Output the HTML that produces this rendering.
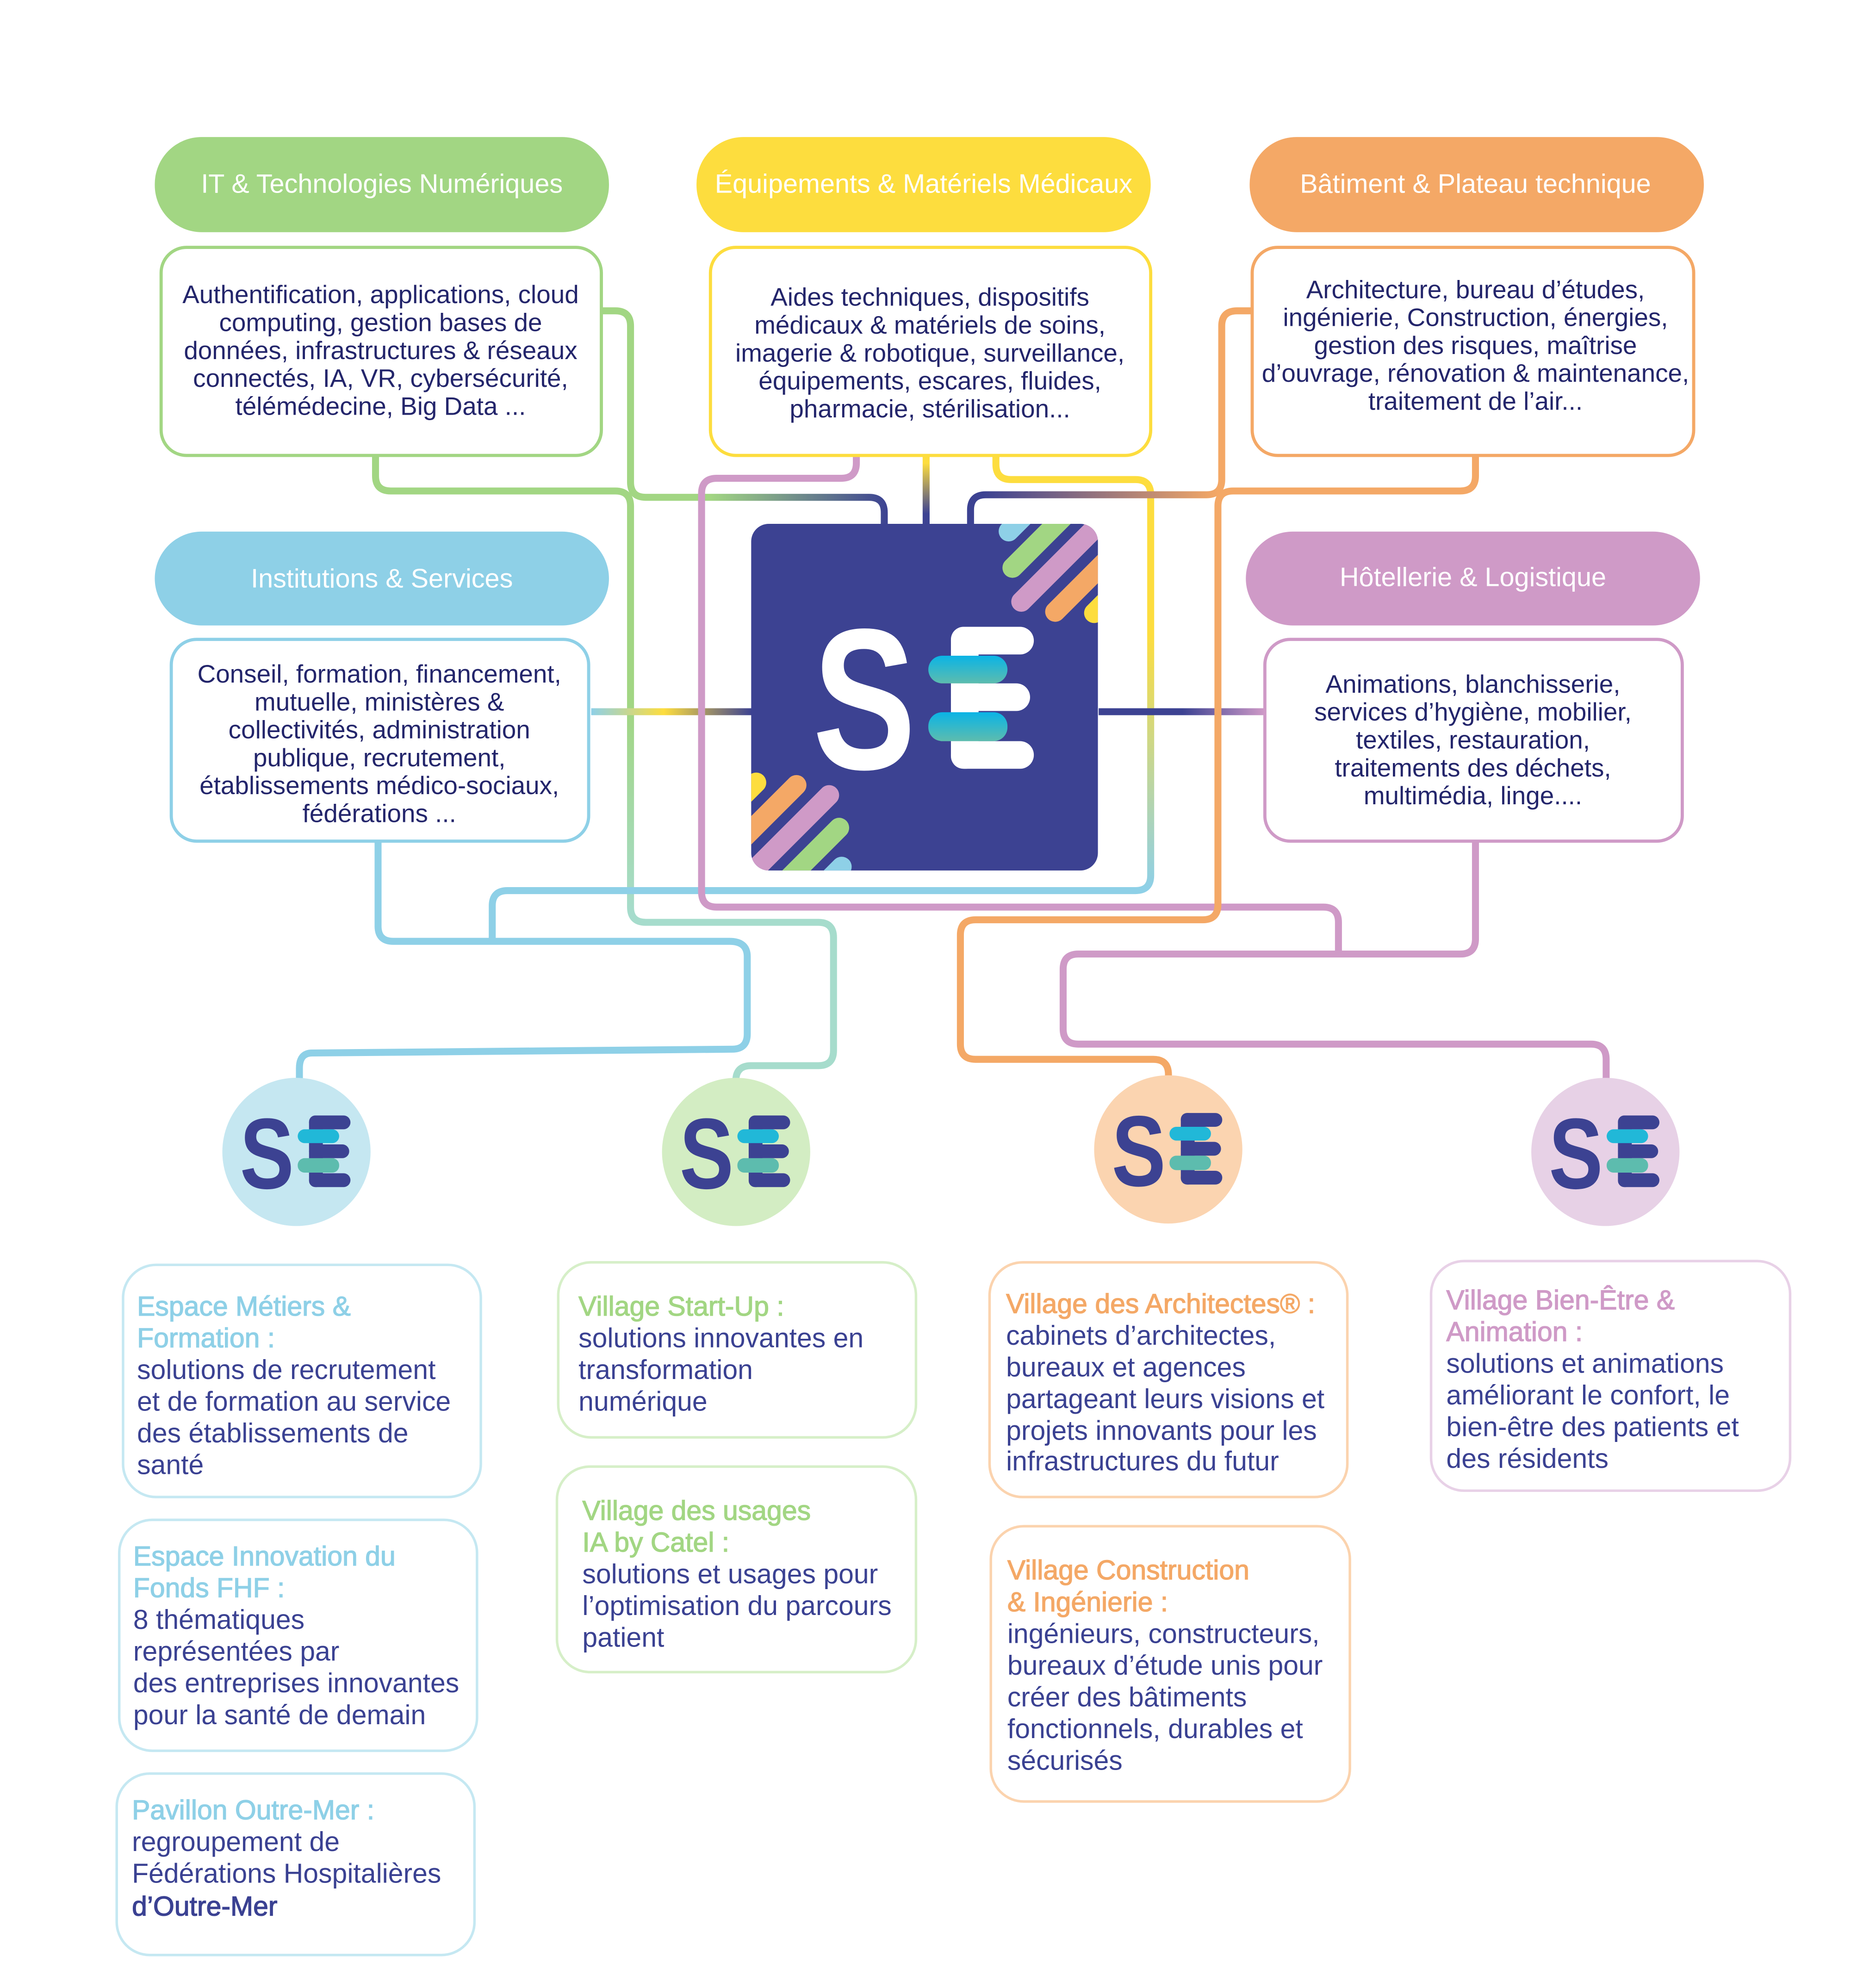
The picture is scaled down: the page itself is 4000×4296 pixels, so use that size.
<!DOCTYPE html>
<html><head><meta charset="utf-8"><style>
html,body{margin:0;padding:0;background:#fff;overflow:hidden;}
svg{display:block;}
text{font-family:"Liberation Sans",sans-serif;}
.hd{fill:#fff;font-size:21px;text-anchor:middle;}
.tb{fill:#23256b;font-size:20px;text-anchor:middle;}
.bd{fill:#3a4192;font-size:21.5px;}
.tt{font-size:21.5px;stroke-width:0.5px;}
</style></head><body>
<svg width="4000" height="4296" viewBox="0 0 1459 1567" preserveAspectRatio="none" xmlns="http://www.w3.org/2000/svg">
<defs>
<linearGradient id="gGreen" gradientUnits="userSpaceOnUse" x1="560" y1="0" x2="700" y2="0"><stop offset="0" stop-color="#a2d683"/><stop offset="1" stop-color="#3c4292"/></linearGradient>
<linearGradient id="gYel" gradientUnits="userSpaceOnUse" x1="0" y1="365" x2="0" y2="405"><stop offset="0" stop-color="#fddd3e"/><stop offset="1" stop-color="#3c4292"/></linearGradient>
<linearGradient id="gOr" gradientUnits="userSpaceOnUse" x1="775" y1="0" x2="960" y2="0"><stop offset="0" stop-color="#3c4292"/><stop offset="1" stop-color="#f4a866"/></linearGradient>
<linearGradient id="gLeft" gradientUnits="userSpaceOnUse" x1="466" y1="0" x2="593" y2="0"><stop offset="0" stop-color="#8ed0e7"/><stop offset="0.45" stop-color="#fddd3e"/><stop offset="1" stop-color="#3c4292"/></linearGradient>
<linearGradient id="gRight" gradientUnits="userSpaceOnUse" x1="867" y1="0" x2="997" y2="0"><stop offset="0" stop-color="#3c4292"/><stop offset="0.5" stop-color="#3c4292"/><stop offset="1" stop-color="#cf9ac7"/></linearGradient>
<linearGradient id="gYB" gradientUnits="userSpaceOnUse" x1="0" y1="500" x2="0" y2="700"><stop offset="0" stop-color="#fddd3e"/><stop offset="1" stop-color="#8ed0e7"/></linearGradient>
<linearGradient id="gGrV" gradientUnits="userSpaceOnUse" x1="0" y1="560" x2="0" y2="720"><stop offset="0" stop-color="#a2d683"/><stop offset="1" stop-color="#a6dccc"/></linearGradient>
<linearGradient id="gTeal" x1="0" y1="0" x2="0" y2="1"><stop offset="0" stop-color="#0ab4e6"/><stop offset="1" stop-color="#5dbcae"/></linearGradient>
<clipPath id="sq"><rect x="598" y="417" width="276" height="276" rx="14"/></clipPath>
</defs>

<g fill="none" stroke-width="5.5" stroke-linejoin="round">
<path d="M474,245 H485 Q497,245 497,257 V380 Q497,392 509,392 H685 Q697,392 697,404 V414" stroke="url(#gGreen)"/>
<path d="M296,359 V375 Q296,387 308,387 H485 Q497,387 497,399 V715 Q497,727 509,727 H645 Q657,727 657,739 V828 Q657,840 645,840 H592 Q580,840 580,852" stroke="url(#gGrV)"/>
<path d="M730,359 V414" stroke="url(#gYel)"/>
<path d="M785,359 V366 Q785,378 797,378 H895 Q907,378 907,390 V690 Q907,702 895,702 H400 Q388,702 388,714 V742" stroke="url(#gYB)"/>
<path d="M298,663 V730 Q298,742 310,742 H575 Q589,742 589,754 V815 Q589,827 577,827 L246,830 Q236,830 236,842 V860" stroke="#8ed0e7"/>
<path d="M466,561 H594" stroke="url(#gLeft)"/>
<path d="M866,561 H997" stroke="url(#gRight)"/>
<path d="M675,359 V365 Q675,377 663,377 H565 Q553,377 553,389 V703 Q553,715 565,715 H1043 Q1055,715 1055,727 V752" stroke="#cf9ac7"/>
<path d="M1163,663 V740 Q1163,752 1151,752 H850 Q838,752 838,764 V811 Q838,823 850,823 H1254 Q1266,823 1266,835 V858" stroke="#cf9ac7"/>
<path d="M987,245 H975 Q963,245 963,257 V378 Q963,390 951,390 H777 Q765,390 765,402 V414" stroke="url(#gOr)"/>
<path d="M1163,359 V375 Q1163,387 1151,387 H972 Q960,387 960,399 V713 Q960,725 948,725 H769 Q757,725 757,737 V823 Q757,835 769,835 H909 Q921,835 921,847 V856" stroke="#f4a866"/>
</g>

<rect x="122" y="108" width="358" height="75" rx="37" fill="#a2d683"/>
<rect x="549" y="108" width="358" height="75" rx="37" fill="#fddd3e"/>
<rect x="985" y="108" width="358" height="75" rx="37" fill="#f4a866"/>
<rect x="122" y="419" width="358" height="74" rx="37" fill="#8ed0e7"/>
<rect x="982" y="419" width="358" height="74" rx="37" fill="#cf9ac7"/>
<text class="hd" x="301" y="152">IT &amp; Technologies Numériques</text>
<text class="hd" x="728" y="152">Équipements &amp; Matériels Médicaux</text>
<text class="hd" x="1163" y="152">Bâtiment &amp; Plateau technique</text>
<text class="hd" x="301" y="463">Institutions &amp; Services</text>
<text class="hd" x="1161" y="462">Hôtellerie &amp; Logistique</text>

<g fill="#fff" stroke-width="2.5">
<rect x="127" y="195" width="347" height="164" rx="20" stroke="#a2d683"/>
<rect x="560" y="195" width="347" height="164" rx="20" stroke="#fddd3e"/>
<rect x="987" y="195" width="348" height="164" rx="20" stroke="#f4a866"/>
<rect x="135" y="504" width="329" height="159" rx="20" stroke="#8ed0e7"/>
<rect x="997" y="504" width="329" height="159" rx="20" stroke="#cf9ac7"/>
</g>
<g>
<text class="tb" x="300" y="239">Authentification, applications, cloud</text>
<text class="tb" x="300" y="261">computing, gestion bases de</text>
<text class="tb" x="300" y="283">données, infrastructures &amp; réseaux</text>
<text class="tb" x="300" y="305">connectés, IA, VR, cybersécurité,</text>
<text class="tb" x="300" y="327">télémédecine, Big Data ...</text>
<text class="tb" x="733" y="241">Aides techniques, dispositifs</text>
<text class="tb" x="733" y="263">médicaux &amp; matériels de soins,</text>
<text class="tb" x="733" y="285">imagerie &amp; robotique, surveillance,</text>
<text class="tb" x="733" y="307">équipements, escares, fluides,</text>
<text class="tb" x="733" y="329">pharmacie, stérilisation...</text>
<text class="tb" x="1163" y="235">Architecture, bureau d’études,</text>
<text class="tb" x="1163" y="257">ingénierie, Construction, énergies,</text>
<text class="tb" x="1163" y="279">gestion des risques, maîtrise</text>
<text class="tb" x="1163" y="301">d’ouvrage, rénovation &amp; maintenance,</text>
<text class="tb" x="1163" y="323">traitement de l’air...</text>
<text class="tb" x="299" y="538">Conseil, formation, financement,</text>
<text class="tb" x="299" y="560">mutuelle, ministères &amp;</text>
<text class="tb" x="299" y="582">collectivités, administration</text>
<text class="tb" x="299" y="604">publique, recrutement,</text>
<text class="tb" x="299" y="626">établissements médico-sociaux,</text>
<text class="tb" x="299" y="648">fédérations ...</text>
<text class="tb" x="1161" y="546">Animations, blanchisserie,</text>
<text class="tb" x="1161" y="568">services d’hygiène, mobilier,</text>
<text class="tb" x="1161" y="590">textiles, restauration,</text>
<text class="tb" x="1161" y="612">traitements des déchets,</text>
<text class="tb" x="1161" y="634">multimédia, linge....</text>
</g>

<g transform="scale(0.99015)">
<rect x="598" y="417" width="276" height="276" rx="14" fill="#3c4292"/>
<g clip-path="url(#sq)" stroke-width="16" stroke-linecap="round">
<line x1="803" y1="423" x2="880" y2="346" stroke="#8ed0e7"/>
<line x1="806" y1="452" x2="900" y2="358" stroke="#a2d683"/>
<line x1="813" y1="479" x2="920" y2="372" stroke="#cf9ac7"/>
<line x1="840" y1="487" x2="940" y2="387" stroke="#f4a866"/>
<line x1="871" y1="488" x2="960" y2="399" stroke="#fddd3e"/>
<line x1="602" y1="623" x2="520" y2="705" stroke="#fddd3e"/>
<line x1="634" y1="625" x2="540" y2="719" stroke="#f4a866"/>
<line x1="660" y1="633" x2="590" y2="703" stroke="#cf9ac7"/>
<line x1="668" y1="659" x2="610" y2="717" stroke="#a2d683"/>
<line x1="670" y1="690" x2="640" y2="720" stroke="#8ed0e7"/>
</g>
<text x="647" y="612" font-size="160" font-weight="bold" fill="#fff" textLength="82" lengthAdjust="spacingAndGlyphs">S</text>
<g fill="#fff">
<rect x="757" y="499" width="22" height="113" rx="10"/>
<rect x="757" y="499" width="66" height="22" rx="11"/>
<rect x="757" y="544" width="63" height="22" rx="11"/>
<rect x="757" y="590" width="66" height="22" rx="11"/>
</g>
<rect x="739" y="522" width="63" height="22" rx="11" fill="url(#gTeal)"/>
<rect x="739" y="567" width="63" height="23" rx="11" fill="url(#gTeal)"/>
</g>

<g transform="scale(0.99015)">
<g transform="translate(236,917)">
<circle r="59" fill="#c5e7f1"/>
<text x="-45" y="29" font-size="80" font-weight="bold" fill="#3c4292" textLength="43" lengthAdjust="spacingAndGlyphs">S</text>
<rect x="10" y="-29" width="11" height="57" rx="5" fill="#3c4292"/>
<rect x="10" y="-29" width="33" height="11" rx="5.5" fill="#3c4292"/>
<rect x="10" y="-6" width="32" height="11" rx="5.5" fill="#3c4292"/>
<rect x="10" y="17" width="33" height="11" rx="5.5" fill="#3c4292"/>
<rect x="1" y="-18" width="33" height="11" rx="5.5" fill="#21b8d8"/>
<rect x="1" y="5" width="33" height="11.5" rx="5.5" fill="#5dbcae"/>
</g>
<g transform="translate(586,917)">
<circle r="59" fill="#d3edc3"/>
<text x="-45" y="29" font-size="80" font-weight="bold" fill="#3c4292" textLength="43" lengthAdjust="spacingAndGlyphs">S</text>
<rect x="10" y="-29" width="11" height="57" rx="5" fill="#3c4292"/>
<rect x="10" y="-29" width="33" height="11" rx="5.5" fill="#3c4292"/>
<rect x="10" y="-6" width="32" height="11" rx="5.5" fill="#3c4292"/>
<rect x="10" y="17" width="33" height="11" rx="5.5" fill="#3c4292"/>
<rect x="1" y="-18" width="33" height="11" rx="5.5" fill="#21b8d8"/>
<rect x="1" y="5" width="33" height="11.5" rx="5.5" fill="#5dbcae"/>
</g>
<g transform="translate(930,915)">
<circle r="59" fill="#fbd4b0"/>
<text x="-45" y="29" font-size="80" font-weight="bold" fill="#3c4292" textLength="43" lengthAdjust="spacingAndGlyphs">S</text>
<rect x="10" y="-29" width="11" height="57" rx="5" fill="#3c4292"/>
<rect x="10" y="-29" width="33" height="11" rx="5.5" fill="#3c4292"/>
<rect x="10" y="-6" width="32" height="11" rx="5.5" fill="#3c4292"/>
<rect x="10" y="17" width="33" height="11" rx="5.5" fill="#3c4292"/>
<rect x="1" y="-18" width="33" height="11" rx="5.5" fill="#21b8d8"/>
<rect x="1" y="5" width="33" height="11.5" rx="5.5" fill="#5dbcae"/>
</g>
<g transform="translate(1278,917)">
<circle r="59" fill="#e7d1e6"/>
<text x="-45" y="29" font-size="80" font-weight="bold" fill="#3c4292" textLength="43" lengthAdjust="spacingAndGlyphs">S</text>
<rect x="10" y="-29" width="11" height="57" rx="5" fill="#3c4292"/>
<rect x="10" y="-29" width="33" height="11" rx="5.5" fill="#3c4292"/>
<rect x="10" y="-6" width="32" height="11" rx="5.5" fill="#3c4292"/>
<rect x="10" y="17" width="33" height="11" rx="5.5" fill="#3c4292"/>
<rect x="1" y="-18" width="33" height="11" rx="5.5" fill="#21b8d8"/>
<rect x="1" y="5" width="33" height="11.5" rx="5.5" fill="#5dbcae"/>
</g>
</g>

<g fill="#fff" stroke-width="2">
<rect x="97" y="997" width="282" height="183" rx="26" stroke="#c5e8f2"/>
<rect x="94" y="1198" width="282" height="182" rx="26" stroke="#c5e8f2"/>
<rect x="92" y="1398" width="282" height="143" rx="26" stroke="#c5e8f2"/>
<rect x="440" y="995" width="282" height="138" rx="26" stroke="#d6efc8"/>
<rect x="439" y="1156" width="283" height="162" rx="26" stroke="#d6efc8"/>
<rect x="780" y="995" width="282" height="185" rx="26" stroke="#fbd3ae"/>
<rect x="781" y="1203" width="283" height="217" rx="26" stroke="#fbd3ae"/>
<rect x="1128" y="994" width="283" height="181" rx="26" stroke="#e8d1e7"/>
</g>

<g fill="#8ed0e7" stroke="#8ed0e7">
<text class="tt" x="108" y="1037">Espace Métiers &amp;</text>
<text class="tt" x="108" y="1062">Formation :</text>
<text class="tt" x="105" y="1234">Espace Innovation du</text>
<text class="tt" x="105" y="1259">Fonds FHF :</text>
<text class="tt" x="104" y="1434">Pavillon Outre-Mer :</text>
</g>
<g fill="#a2d683" stroke="#a2d683">
<text class="tt" x="456" y="1037">Village Start-Up :</text>
<text class="tt" x="459" y="1198">Village des usages</text>
<text class="tt" x="459" y="1223">IA by Catel :</text>
</g>
<g fill="#f4a866" stroke="#f4a866">
<text class="tt" x="793" y="1035">Village des Architectes® :</text>
<text class="tt" x="794" y="1245">Village Construction</text>
<text class="tt" x="794" y="1270">&amp; Ingénierie :</text>
</g>
<g fill="#cf9ac7" stroke="#cf9ac7">
<text class="tt" x="1140" y="1032">Village Bien-Être &amp;</text>
<text class="tt" x="1140" y="1057">Animation :</text>
</g>

<g>
<text class="bd" x="108" y="1087">solutions de recrutement</text>
<text class="bd" x="108" y="1112">et de formation au service</text>
<text class="bd" x="108" y="1137">des établissements de</text>
<text class="bd" x="108" y="1162">santé</text>
<text class="bd" x="105" y="1284">8 thématiques</text>
<text class="bd" x="105" y="1309">représentées par</text>
<text class="bd" x="105" y="1334">des entreprises innovantes</text>
<text class="bd" x="105" y="1359">pour la santé de demain</text>
<text class="bd" x="104" y="1459">regroupement de</text>
<text class="bd" x="104" y="1484">Fédérations Hospitalières</text>
<text class="bd" x="104" y="1510" stroke="#3a4192" stroke-width="0.5">d’Outre-Mer</text>
<text class="bd" x="456" y="1062">solutions innovantes en</text>
<text class="bd" x="456" y="1087">transformation</text>
<text class="bd" x="456" y="1112">numérique</text>
<text class="bd" x="459" y="1248">solutions et usages pour</text>
<text class="bd" x="459" y="1273">l’optimisation du parcours</text>
<text class="bd" x="459" y="1298">patient</text>
<text class="bd" x="793" y="1060">cabinets d’architectes,</text>
<text class="bd" x="793" y="1085">bureaux et agences</text>
<text class="bd" x="793" y="1110">partageant leurs visions et</text>
<text class="bd" x="793" y="1135">projets innovants pour les</text>
<text class="bd" x="793" y="1159">infrastructures du futur</text>
<text class="bd" x="794" y="1295">ingénieurs, constructeurs,</text>
<text class="bd" x="794" y="1320">bureaux d’étude unis pour</text>
<text class="bd" x="794" y="1345">créer des bâtiments</text>
<text class="bd" x="794" y="1370">fonctionnels, durables et</text>
<text class="bd" x="794" y="1395">sécurisés</text>
<text class="bd" x="1140" y="1082">solutions et animations</text>
<text class="bd" x="1140" y="1107">améliorant le confort, le</text>
<text class="bd" x="1140" y="1132">bien-être des patients et</text>
<text class="bd" x="1140" y="1157">des résidents</text>
</g>
</svg>
</body></html>
